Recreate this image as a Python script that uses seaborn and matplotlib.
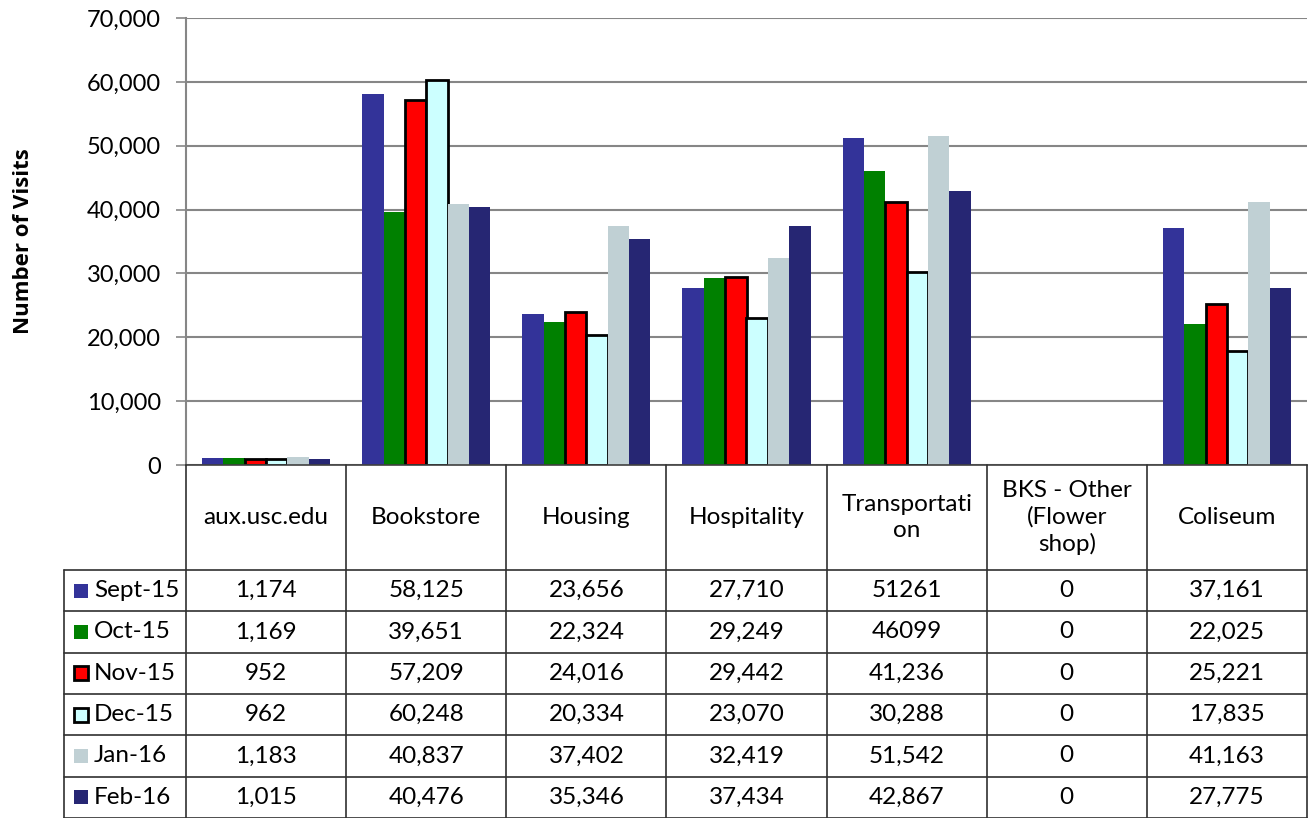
import matplotlib
matplotlib.use("Agg")
import matplotlib.pyplot as plt
import pandas as pd
import seaborn as sns

# values as they appear in the data table
categories = ["aux.usc.edu", "Bookstore", "Housing", "Hospitality",
              "Transportation", "BKS - Other (Flower shop)", "Coliseum"]
header_labels = ["aux.usc.edu", "Bookstore", "Housing", "Hospitality",
                 "Transportati\non", "BKS - Other\n(Flower\nshop)", "Coliseum"]
months = ["Sept-15", "Oct-15", "Nov-15", "Dec-15", "Jan-16", "Feb-16"]

sept_15 = ["1,174", "58,125", "23,656", "27,710", "51261", "0", "37,161"]
oct_15 = ["1,169", "39,651", "22,324", "29,249", "46099", "0", "22,025"]
nov_15 = ["952", "57,209", "24,016", "29,442", "41,236", "0", "25,221"]
dec_15 = ["962", "60,248", "20,334", "23,070", "30,288", "0", "17,835"]
jan_16 = ["1,183", "40,837", "37,402", "32,419", "51,542", "0", "41,163"]
feb_16 = ["1,015", "40,476", "35,346", "37,434", "42,867", "0", "27,775"]

table_rows = [sept_15, oct_15, nov_15, dec_15, jan_16, feb_16]

colors = ["#333399", "#008000", "#FF0000", "#CCFFFF", "#C0D0D4", "#262673"]
edges = [None, None, "black", "black", None, None]

rows = []
for m, vals in zip(months, table_rows):
    for c, v in zip(categories, vals):
        rows.append({"category": c, "month": m, "visits": int(v.replace(",", ""))})
df = pd.DataFrame(rows)

sns.set_style("white")
plt.rcParams["font.family"] = ["Lato", "DejaVu Sans"]
plt.rcParams["text.color"] = "black"
plt.rcParams["ytick.labelcolor"] = "black"

W, H = 1309, 818
fig = plt.figure(figsize=(W / 100, H / 100), dpi=100)
ax = fig.add_axes([186 / W, 1 - 465 / H, 1121 / W, 447 / H])

sns.barplot(data=df, x="category", y="visits", hue="month", hue_order=months,
            order=categories, palette=colors, saturation=1, width=0.8,
            legend=False, ax=ax)

for cont, ec in zip(ax.containers, edges):
    for bar in cont:
        if ec is not None and bar.get_height() > 0:
            bar.set_edgecolor(ec)
            bar.set_linewidth(2)
        else:
            bar.set_edgecolor("none")

ax.set_xlim(-0.5, 6.5)
ax.set_ylim(0, 70000)
ax.set_yticks(range(0, 70001, 10000))
ax.set_yticklabels([f"{t:,}" for t in range(0, 70001, 10000)], fontsize=17)
ax.set_xticks([])
ax.set_xlabel("")
ax.set_ylabel("Number of Visits", fontsize=16, fontweight="bold",
              family=["Open Sans", "DejaVu Sans"], color="black")
ax.yaxis.set_label_coords(-0.136, 0.5)
ax.yaxis.grid(True, color="#868686", linewidth=1.5)
ax.set_axisbelow(True)
ax.tick_params(axis="y", length=7, width=1.2, color="#868686", pad=11, left=True)
for s in ["top", "right"]:
    ax.spines[s].set_visible(False)
ax.spines["left"].set_color("#868686")
ax.spines["left"].set_linewidth(1.5)
ax.spines["bottom"].set_color("#404040")
ax.spines["bottom"].set_linewidth(1.2)

# data table below the plot
row_h = 41.4
header_h = 105 / row_h
left_x = -0.5 - 122 / 160
tax = fig.add_axes([64 / W, 0, 1243 / W, 353 / H])
tax.set_xlim(left_x, 6.5)
tax.set_ylim(header_h + 6, 0)
tax.axis("off")

lc = "#303030"
lw = 1.2
for k in range(8):
    tax.plot([-0.5 + k, -0.5 + k], [0, header_h + 6], color=lc, lw=lw, clip_on=False)
tax.plot([left_x, left_x], [header_h, header_h + 6], color=lc, lw=lw, clip_on=False)
for i in range(7):
    tax.plot([left_x, 6.5], [header_h + i, header_h + i], color=lc, lw=lw, clip_on=False)

for k, lab in enumerate(header_labels):
    tax.text(k, header_h / 2, lab, ha="center", va="center", fontsize=17.5,
             linespacing=1.3)

for i, (m, vals) in enumerate(zip(months, table_rows)):
    yc = header_h + i + 0.5
    tax.plot([left_x + 17 / 160], [yc], marker="s", ms=10.5,
             color=colors[i], mec=edges[i] or colors[i], mew=2 if edges[i] else 0,
             clip_on=False)
    tax.text(left_x + 30 / 160, yc, m, ha="left", va="center", fontsize=17.5)
    for k, v in enumerate(vals):
        tax.text(k, yc, v, ha="center", va="center", fontsize=17.5)

fig.savefig("out.png", dpi=100)
